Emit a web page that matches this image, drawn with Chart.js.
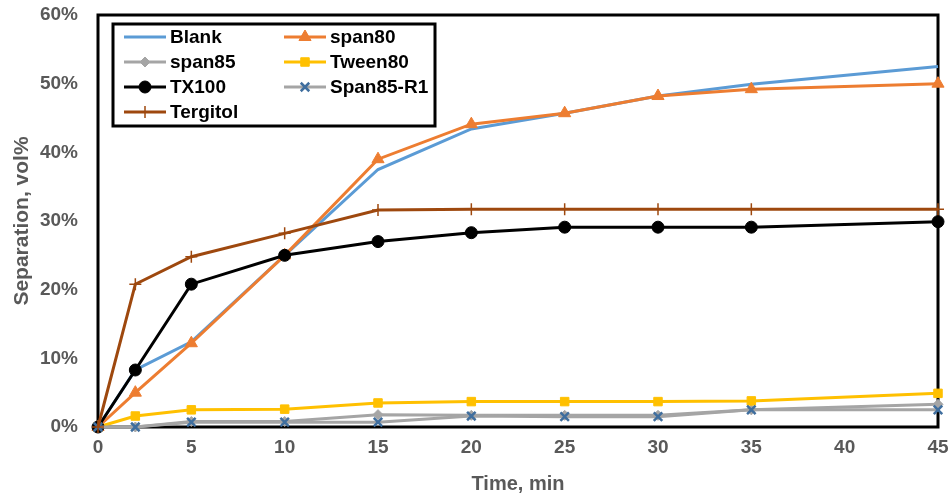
<!DOCTYPE html>
<html><head><meta charset="utf-8">
<script src="https://cdn.jsdelivr.net/npm/chart.js@4"></script>
<style>html,body{margin:0;padding:0;background:#fff}#wrap{width:951px;height:499px;position:relative}</style>
</head><body><div id="wrap"><canvas id="c"></canvas></div>
<script>
// ---- data ----
const times = [0, 2, 5, 10, 15, 20, 25, 30, 35, 45];
const seriesNames = ['Blank', 'span80', 'span85', 'Tween80', 'TX100', 'Span85-R1', 'Tergitol'];
const blank    = [0, 8.3, 12.4, 25.0, 37.5, 43.4, 45.7, 48.2, 49.9, 52.5];
const span80   = [0, 5.0, 12.2, 25.0, 39.0, 44.1, 45.7, 48.2, 49.2, 50.0];
const span85   = [0, 0.0, 0.8, 0.8, 1.8, 1.7, 1.7, 1.7, 2.5, 3.3];
const tween80  = [0, 1.6, 2.5, 2.6, 3.5, 3.7, 3.7, 3.7, 3.8, 4.9];
const tx100    = [0, 8.3, 20.8, 25.0, 27.0, 28.3, 29.1, 29.1, 29.1, 29.9];
const span85R1 = [0, 0.0, 0.7, 0.7, 0.7, 1.6, 1.5, 1.5, 2.5, 2.5];
const tergitol = [0, 20.8, 24.8, 28.2, 31.6, 31.7, 31.7, 31.7, 31.7, 31.7];
const xTickValues = [0, 5, 10, 15, 20, 25, 30, 35, 40, 45];
const yTickValues = [0, 10, 20, 30, 40, 50, 60];
const xTitle = 'Time, min';
const yTitle = 'Separation, vol%';

// ---- styles ----
const styles = [
  {line: '#5B9BD5', mk: '#5B9BD5', ps: 'circle', r: 0, bw: 0},
  {line: '#ED7D31', mk: '#ED7D31', ps: 'triangle', r: 7, bw: 1},
  {line: '#A5A5A5', mk: '#A5A5A5', ps: 'rectRot', r: 5, bw: 1},
  {line: '#FFC000', mk: '#FFC000', ps: 'rect', r: 6, bw: 1},
  {line: '#000000', mk: '#000000', ps: 'circle', r: 6, bw: 1},
  {line: '#A5A5A5', mk: '#3F6E9E', ps: 'crossRot', r: 6, bw: 2.5},
  {line: '#9E480E', mk: '#9E480E', ps: 'cross', r: 6, bw: 1.5}
];
const allSeries = [blank, span80, span85, tween80, tx100, span85R1, tergitol];

const datasets = allSeries.map((vals, i) => ({
  label: seriesNames[i],
  data: times.map((t, j) => ({x: t, y: vals[j]})),
  borderColor: styles[i].line,
  backgroundColor: styles[i].mk,
  pointBackgroundColor: styles[i].mk,
  pointBorderColor: styles[i].mk,
  pointStyle: styles[i].ps,
  pointRadius: styles[i].r,
  pointHoverRadius: styles[i].r,
  pointBorderWidth: styles[i].bw,
  borderWidth: 3,
  tension: 0,
  clip: false,
  order: allSeries.length - i
}));

const frontFont = "'Liberation Sans', Arial, sans-serif";

const framePlugin = {
  id: 'frame',
  beforeDatasetsDraw(chart) {
    const {ctx, chartArea: a} = chart;
    ctx.save();
    ctx.strokeStyle = '#000';
    ctx.lineWidth = 3;
    ctx.strokeRect(a.left, a.top, a.right - a.left, a.bottom - a.top);
    ctx.restore();
  }
};

const boxLegend = {
  id: 'boxLegend',
  afterDraw(chart) {
    const ctx = chart.ctx;
    const box = {x: 113, y: 24, w: 322, h: 102};
    const colX = [124, 284];
    const rowY = [37, 62, 87, 112];
    ctx.save();
    ctx.fillStyle = '#fff';
    ctx.fillRect(box.x, box.y, box.w, box.h);
    ctx.strokeStyle = '#000';
    ctx.lineWidth = 3;
    ctx.strokeRect(box.x, box.y, box.w, box.h);
    chart.data.datasets.forEach((ds, i) => {
      const cx = colX[i % 2], cy = rowY[Math.floor(i / 2)];
      ctx.strokeStyle = ds.borderColor;
      ctx.lineWidth = 3;
      ctx.beginPath();
      ctx.moveTo(cx, cy);
      ctx.lineTo(cx + 42, cy);
      ctx.stroke();
      if (ds.pointRadius > 0) {
        ctx.fillStyle = ds.pointBackgroundColor;
        ctx.strokeStyle = ds.pointBorderColor;
        ctx.lineWidth = ds.pointBorderWidth;
        Chart.helpers.drawPoint(ctx, {pointStyle: ds.pointStyle, radius: ds.pointRadius, rotation: 0, borderWidth: ds.pointBorderWidth}, cx + 21, cy);
      }
      ctx.fillStyle = '#000';
      ctx.font = "bold 19px " + frontFont;
      ctx.textBaseline = 'middle';
      ctx.textAlign = 'left';
      ctx.fillText(ds.label, cx + 46, cy + 1);
    });
    ctx.restore();
  }
};

new Chart(document.getElementById('c'), {
  type: 'line',
  data: {datasets},
  plugins: [framePlugin, boxLegend],
  options: {
    responsive: true,
    maintainAspectRatio: false,
    animation: false,
    events: [],
    layout: {padding: {top: 15, right: 13, left: 0, bottom: 0}},
    plugins: {legend: {display: false}, tooltip: {enabled: false}},
    scales: {
      x: {
        type: 'linear', min: 0, max: 45,
        afterBuildTicks: s => { s.ticks = xTickValues.map(v => ({value: v})); },
        afterFit: s => { s.height = 72; s.paddingLeft = 0; s.paddingRight = 0; },
        grid: {display: false, drawTicks: false},
        border: {display: false},
        ticks: {padding: 9, color: '#595959', font: {family: frontFont, size: 19, weight: 'bold'}, maxRotation: 0},
        title: {display: true, text: xTitle, color: '#595959', font: {family: frontFont, size: 20, weight: 'bold'}, padding: {top: 0, bottom: 3}}
      },
      y: {
        min: 0, max: 60,
        afterBuildTicks: s => { s.ticks = yTickValues.map(v => ({value: v})); },
        afterFit: s => { s.width = 98; s.paddingTop = 0; s.paddingBottom = 0; },
        grid: {display: false, drawTicks: false},
        border: {display: false},
        ticks: {padding: 20, color: '#595959', font: {family: frontFont, size: 19, weight: 'bold'}, callback: v => v + '%'},
        title: {display: true, text: yTitle, color: '#595959', font: {family: frontFont, size: 21, weight: 'bold'}, padding: {top: 10, bottom: 0}}
      }
    }
  }
});
</script></body></html>
